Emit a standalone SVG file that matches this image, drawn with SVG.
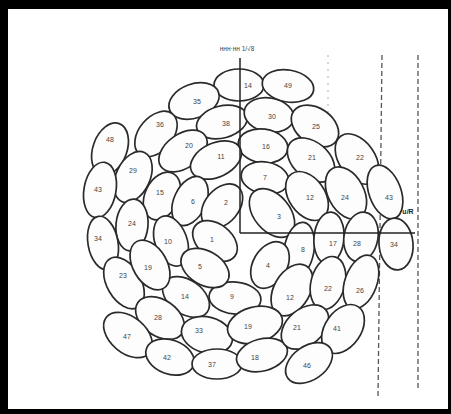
<svg xmlns="http://www.w3.org/2000/svg" width="451" height="414" viewBox="0 0 451 414">
<style>
.e{fill:#fdfdfd;stroke:#2a2a2a;stroke-width:1.7}
.t{font-family:"Liberation Sans",Arial,sans-serif;font-size:7px;fill:#444;text-anchor:middle}
.ax{stroke:#222;stroke-width:1.5;fill:none}
.d{stroke:#555;stroke-width:1.3;stroke-dasharray:5 3;fill:none}
.f{stroke:#aaa;stroke-width:1;stroke-dasharray:2 5;fill:none}
</style>
<rect x="0" y="0" width="451" height="414" fill="#000"/>
<rect x="8" y="9" width="440" height="400" fill="#fff"/>
<g id="connectors">
<line class="f" x1="328" y1="55" x2="328" y2="175"/>
<line class="d" x1="382" y1="55" x2="378" y2="398"/>
<line class="d" x1="418" y1="55" x2="418" y2="390"/>
</g>
<g id="n14"><ellipse class="e" cx="239" cy="85" rx="25" ry="16"/><text class="t" x="248" y="88">14</text></g>
<g id="n49"><ellipse class="e" cx="288" cy="86" rx="26" ry="16" transform="rotate(10 288 86)"/><text class="t" x="288" y="88">49</text></g>
<g id="n35"><ellipse class="e" cx="194" cy="101" rx="26" ry="17" transform="rotate(-20 194 101)"/><text class="t" x="197" y="104">35</text></g>
<g id="n38"><ellipse class="e" cx="222" cy="122" rx="26" ry="16" transform="rotate(-15 222 122)"/><text class="t" x="226" y="126">38</text></g>
<g id="n30"><ellipse class="e" cx="269" cy="115" rx="25" ry="17" transform="rotate(10 269 115)"/><text class="t" x="272" y="119">30</text></g>
<g id="n25"><ellipse class="e" cx="315" cy="126" rx="26" ry="18" transform="rotate(35 315 126)"/><text class="t" x="316" y="129">25</text></g>
<g id="n16"><ellipse class="e" cx="263" cy="146" rx="25" ry="17" transform="rotate(8 263 146)"/><text class="t" x="266" y="149">16</text></g>
<g id="n21"><ellipse class="e" cx="311" cy="160" rx="27" ry="18" transform="rotate(40 311 160)"/><text class="t" x="312" y="160">21</text></g>
<g id="n22"><ellipse class="e" cx="357" cy="159" rx="28" ry="18" transform="rotate(55 357 159)"/><text class="t" x="360" y="160">22</text></g>
<g id="n48"><ellipse class="e" cx="110" cy="149" rx="27" ry="17" transform="rotate(-70 110 149)"/><text class="t" x="110" y="142">48</text></g>
<g id="n36"><ellipse class="e" cx="156" cy="134" rx="26" ry="17" transform="rotate(-50 156 134)"/><text class="t" x="160" y="127">36</text></g>
<g id="n20"><ellipse class="e" cx="183" cy="151" rx="27" ry="17" transform="rotate(-35 183 151)"/><text class="t" x="189" y="148">20</text></g>
<g id="n11"><ellipse class="e" cx="216" cy="160" rx="27" ry="17" transform="rotate(-25 216 160)"/><text class="t" x="221" y="159">11</text></g>
<g id="n7"><ellipse class="e" cx="265" cy="178" rx="24" ry="16" transform="rotate(10 265 178)"/><text class="t" x="265" y="180">7</text></g>
<g id="n29"><ellipse class="e" cx="133" cy="177" rx="27" ry="17" transform="rotate(-65 133 177)"/><text class="t" x="133" y="173">29</text></g>
<g id="n43"><ellipse class="e" cx="100" cy="190" rx="28" ry="16" transform="rotate(-80 100 190)"/><text class="t" x="98" y="192">43</text></g>
<g id="n15"><ellipse class="e" cx="162" cy="196" rx="25" ry="17" transform="rotate(-65 162 196)"/><text class="t" x="160" y="195">15</text></g>
<g id="n6"><ellipse class="e" cx="190" cy="201" rx="26" ry="16" transform="rotate(-65 190 201)"/><text class="t" x="193" y="204">6</text></g>
<g id="n2"><ellipse class="e" cx="222" cy="206" rx="25" ry="17" transform="rotate(-50 222 206)"/><text class="t" x="226" y="205">2</text></g>
<g id="n3"><ellipse class="e" cx="272" cy="213" rx="28" ry="18" transform="rotate(50 272 213)"/><text class="t" x="279" y="219">3</text></g>
<g id="n12"><ellipse class="e" cx="307" cy="196" rx="27" ry="18" transform="rotate(55 307 196)"/><text class="t" x="310" y="200">12</text></g>
<g id="n24r"><ellipse class="e" cx="346" cy="193" rx="28" ry="18" transform="rotate(62 346 193)"/><text class="t" x="345" y="200">24</text></g>
<g id="n43r"><ellipse class="e" cx="385" cy="192" rx="28" ry="16" transform="rotate(70 385 192)"/><text class="t" x="389" y="200">43</text></g>
<g id="n24"><ellipse class="e" cx="132" cy="225" rx="26" ry="16" transform="rotate(-85 132 225)"/><text class="t" x="132" y="226">24</text></g>
<g id="n34"><ellipse class="e" cx="103" cy="243" rx="27" ry="15" transform="rotate(80 103 243)"/><text class="t" x="98" y="241">34</text></g>
<g id="n10"><ellipse class="e" cx="171" cy="241" rx="26" ry="16" transform="rotate(70 171 241)"/><text class="t" x="168" y="244">10</text></g>
<g id="n1"><ellipse class="e" cx="215" cy="241" rx="25" ry="17" transform="rotate(38 215 241)"/><text class="t" x="212" y="242">1</text></g>
<g id="n8"><ellipse class="e" cx="299" cy="250" rx="28" ry="15" transform="rotate(-80 299 250)"/><text class="t" x="303" y="252">8</text></g>
<g id="n17"><ellipse class="e" cx="329" cy="238" rx="26" ry="15" transform="rotate(-85 329 238)"/><text class="t" x="333" y="246">17</text></g>
<g id="n28r"><ellipse class="e" cx="361" cy="237" rx="25" ry="17" transform="rotate(-80 361 237)"/><text class="t" x="357" y="246">28</text></g>
<g id="n34r"><ellipse class="e" cx="396" cy="244" rx="26" ry="17" transform="rotate(85 396 244)"/><text class="t" x="394" y="247">34</text></g>
<g id="n4"><ellipse class="e" cx="270" cy="265" rx="25" ry="17" transform="rotate(-60 270 265)"/><text class="t" x="268" y="268">4</text></g>
<g id="n12l"><ellipse class="e" cx="292" cy="290" rx="28" ry="18" transform="rotate(-60 292 290)"/><text class="t" x="290" y="300">12</text></g>
<g id="n22l"><ellipse class="e" cx="328" cy="283" rx="27" ry="17" transform="rotate(-75 328 283)"/><text class="t" x="328" y="291">22</text></g>
<g id="n26l"><ellipse class="e" cx="361" cy="282" rx="28" ry="16" transform="rotate(-70 361 282)"/><text class="t" x="360" y="293">26</text></g>
<g id="n9"><ellipse class="e" cx="235" cy="298" rx="26" ry="16" transform="rotate(5 235 298)"/><text class="t" x="232" y="299">9</text></g>
<g id="n5"><ellipse class="e" cx="205" cy="268" rx="26" ry="17" transform="rotate(30 205 268)"/><text class="t" x="200" y="269">5</text></g>
<g id="n14l"><ellipse class="e" cx="186" cy="297" rx="26" ry="17" transform="rotate(35 186 297)"/><text class="t" x="185" y="299">14</text></g>
<g id="n23"><ellipse class="e" cx="124" cy="283" rx="28" ry="17" transform="rotate(60 124 283)"/><text class="t" x="123" y="278">23</text></g>
<g id="n19l"><ellipse class="e" cx="150" cy="265" rx="27" ry="17" transform="rotate(60 150 265)"/><text class="t" x="148" y="270">19</text></g>
<g id="n28"><ellipse class="e" cx="160" cy="318" rx="27" ry="18" transform="rotate(35 160 318)"/><text class="t" x="158" y="320">28</text></g>
<g id="n47"><ellipse class="e" cx="128" cy="335" rx="28" ry="18" transform="rotate(40 128 335)"/><text class="t" x="127" y="339">47</text></g>
<g id="n33"><ellipse class="e" cx="207" cy="335" rx="26" ry="18" transform="rotate(15 207 335)"/><text class="t" x="199" y="333">33</text></g>
<g id="n42"><ellipse class="e" cx="170" cy="357" rx="25" ry="17" transform="rotate(20 170 357)"/><text class="t" x="167" y="360">42</text></g>
<g id="n37"><ellipse class="e" cx="217" cy="364" rx="25" ry="15"/><text class="t" x="212" y="367">37</text></g>
<g id="n19"><ellipse class="e" cx="255" cy="325" rx="28" ry="18" transform="rotate(-15 255 325)"/><text class="t" x="248" y="329">19</text></g>
<g id="n18"><ellipse class="e" cx="262" cy="355" rx="26" ry="16" transform="rotate(-15 262 355)"/><text class="t" x="255" y="360">18</text></g>
<g id="n21l"><ellipse class="e" cx="305" cy="327" rx="27" ry="18" transform="rotate(-40 305 327)"/><text class="t" x="297" y="330">21</text></g>
<g id="n41"><ellipse class="e" cx="343" cy="329" rx="27" ry="18" transform="rotate(-55 343 329)"/><text class="t" x="337" y="331">41</text></g>
<g id="n46"><ellipse class="e" cx="309" cy="363" rx="26" ry="17" transform="rotate(-35 309 363)"/><text class="t" x="307" y="368">46</text></g>
<g id="axes">
<line class="ax" x1="240" y1="58" x2="240" y2="233"/>
<line class="ax" x1="240" y1="233" x2="415" y2="233"/>
<text class="t" x="237" y="51" style="font-size:6.5px">ннн·нн 1/√8</text>
<text class="t" x="408" y="214" style="font-size:7px;font-weight:bold;fill:#222">u/R</text>
</g>
</svg>
